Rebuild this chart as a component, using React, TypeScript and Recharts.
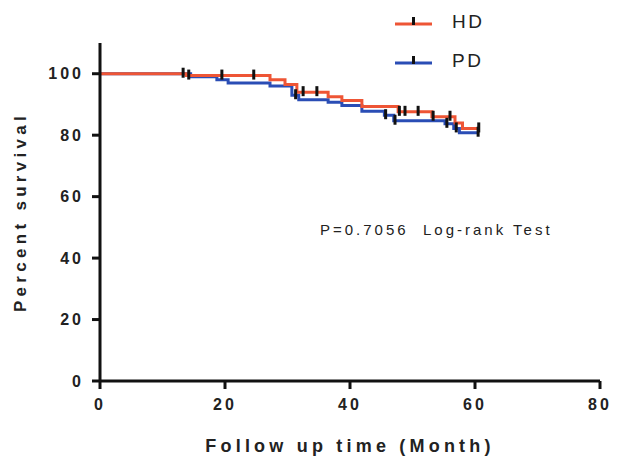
import { Line, LineChart, XAxis, YAxis } from "recharts"

// Kaplan-Meier steps: time (month), percent survival, censored (1) or event (0)
const hdTime = [0, 13.3, 13.8, 14.2, 19.5, 24.6, 27.2, 29.6, 31.5, 32.5, 34.7, 36.5, 38.7, 41.9, 47.7, 47.9, 48.8, 50.9, 53.1, 53.3, 56.0, 56.8, 58.0, 60.6]
const hdSurvival = [100, 100, 99.4, 99.4, 99.4, 99.4, 98.0, 96.5, 94.0, 94.0, 94.0, 92.5, 91.3, 89.3, 87.6, 87.6, 87.6, 87.6, 86.0, 86.0, 86.0, 84.0, 82.2, 82.2]
const hdCensored = [0, 1, 0, 1, 1, 1, 0, 0, 0, 1, 1, 0, 0, 0, 0, 1, 1, 1, 0, 1, 1, 0, 0, 1]

const pdTime = [0, 14.5, 18.7, 20.5, 27.2, 30.7, 31.3, 31.8, 36.5, 38.7, 41.9, 45.5, 45.7, 47.0, 47.2, 55.2, 55.5, 56.6, 57.0, 57.5, 60.5]
const pdSurvival = [100, 99.0, 98.0, 97.0, 96.0, 93.0, 93.0, 91.5, 90.7, 89.7, 87.8, 86.5, 86.5, 84.7, 84.7, 83.7, 83.7, 82.2, 82.2, 80.8, 80.8]
const pdCensored = [0, 0, 0, 0, 0, 0, 1, 0, 0, 0, 0, 0, 1, 0, 1, 0, 1, 0, 1, 0, 1]

const xTicks = [0, 20, 40, 60, 80]
const yTicks = [0, 20, 40, 60, 80, 100]

const RED = "#ee5535"
const BLUE = "#2a4db5"
const FONT = "'Liberation Sans', Arial, sans-serif"

const hdData = hdTime.map((t, i) => ({ t, s: hdSurvival[i], c: hdCensored[i] }))
const pdData = pdTime.map((t, i) => ({ t, s: pdSurvival[i], c: pdCensored[i] }))

function CensorDot(props: any) {
  const { cx, cy, payload, index } = props
  if (!payload || !payload.c || cx == null || cy == null) return <g key={`d-${index}`} />
  return <rect key={`d-${index}`} x={cx - 1.5} y={cy - 6} width={3} height={10} fill="#111" />
}

function LegendItem({ color, label, top }: { color: string; label: string; top: number }) {
  return (
    <div style={{ position: "absolute", left: 395, top, display: "flex", alignItems: "center" }}>
      <svg width={40} height={14}>
        <line x1={0} y1={9} x2={37} y2={9} stroke={color} strokeWidth={3} />
        <rect x={17} y={2} width={3} height={8} fill="#111" />
      </svg>
      <span style={{ marginLeft: 17, fontFamily: FONT, fontSize: 19, letterSpacing: 2.5, color: "#222" }}>{label}</span>
    </div>
  )
}

export default function App() {
  return (
    <div style={{ position: "absolute", left: 0, top: 0, width: 620, height: 460, background: "#fff" }}>
      <LineChart width={620} height={460} margin={{ top: 43, right: 20, bottom: 0, left: 0 }}>
        <XAxis
          dataKey="t"
          type="number"
          domain={[0, 80]}
          ticks={xTicks}
          height={79}
          allowDuplicatedCategory={false}
          axisLine={{ stroke: "#111", strokeWidth: 3 }}
          tickLine={{ stroke: "#111", strokeWidth: 3 }}
          tickSize={8}
          tickMargin={10}
          tick={{ fill: "#222", fontSize: 16, fontWeight: 700, fontFamily: FONT, letterSpacing: 3 }}
          label={{
            value: "Follow up time (Month)",
            position: "insideBottom",
            offset: 8,
            style: { fill: "#222", fontSize: 18, fontWeight: 700, fontFamily: FONT, letterSpacing: 4.2 },
          }}
        />
        <YAxis
          type="number"
          domain={[0, 110]}
          ticks={yTicks}
          width={100}
          axisLine={{ stroke: "#111", strokeWidth: 3 }}
          tickLine={{ stroke: "#111", strokeWidth: 3 }}
          tickSize={8}
          tickMargin={8}
          tick={{ fill: "#222", fontSize: 16, fontWeight: 700, fontFamily: FONT, letterSpacing: 3 }}
          label={{
            value: "Percent survival",
            angle: -90,
            position: "insideLeft",
            offset: 20,
            style: { textAnchor: "middle", fill: "#222", fontSize: 17, fontWeight: 700, fontFamily: FONT, letterSpacing: 4.3 },
          }}
        />
        <Line
          data={pdData}
          dataKey="s"
          type="stepAfter"
          stroke={BLUE}
          strokeWidth={3}
          dot={CensorDot}
          activeDot={false}
          isAnimationActive={false}
        />
        <Line
          data={hdData}
          dataKey="s"
          type="stepAfter"
          stroke={RED}
          strokeWidth={3}
          dot={CensorDot}
          activeDot={false}
          isAnimationActive={false}
        />
      </LineChart>
      <LegendItem color={RED} label="HD" top={11} />
      <LegendItem color={BLUE} label="PD" top={50} />
      <div
        style={{
          position: "absolute",
          left: 320,
          top: 221,
          fontFamily: FONT,
          fontSize: 15,
          letterSpacing: 3,
          color: "#222",
          whiteSpace: "pre",
        }}
      >
        {"P=0.7056  Log-rank Test"}
      </div>
    </div>
  )
}
